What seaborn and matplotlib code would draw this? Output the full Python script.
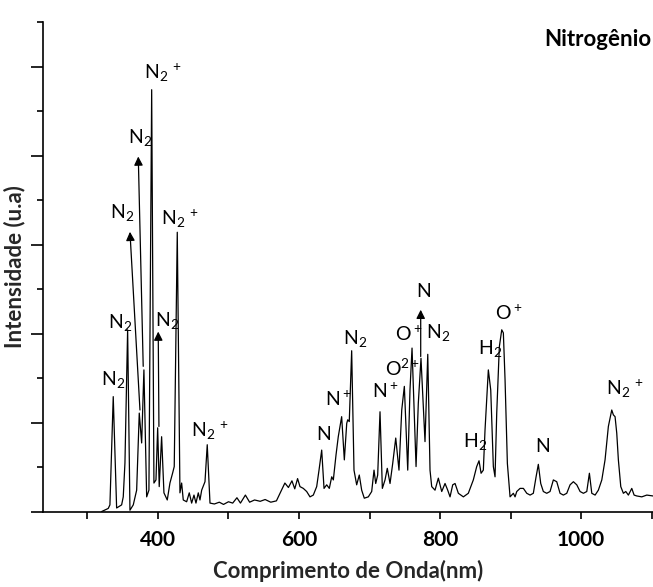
import matplotlib
matplotlib.use("Agg")
import matplotlib.pyplot as plt
import seaborn as sns
import pandas as pd
from matplotlib.ticker import MultipleLocator, FixedLocator, NullFormatter

# Emission spectrum of the nitrogen plasma (wavelength in nm, intensity in a.u.)
wavelength = [
    320.1, 329.5, 331.9, 336.6, 341.4, 348.5, 350.8, 353.2, 357.0, 360.3,
    365.0, 369.8, 373.5, 376.9, 380.1, 384.0, 387.2, 391.1, 394.3, 397.2,
    399.6, 401.8, 405.2, 408.5, 413.2, 417.0, 420.9, 423.1, 427.4, 431.2,
    433.6, 435.9, 440.7, 444.4, 447.8, 451.1, 453.9, 457.2, 459.6, 462.0,
    466.7, 469.9, 473.8, 480.0, 487.0, 493.0, 500.0, 506.0, 512.0, 517.0,
    524.0, 530.0, 537.0, 545.0, 552.0, 560.0, 568.0, 574.0, 580.0, 585.0,
    590.0, 594.0, 598.0, 601.4, 606.1, 610.9, 615.6, 620.3, 625.1, 628.4,
    632.2, 635.5, 639.3, 643.0, 646.4, 648.7, 652.5, 655.7, 660.5, 664.3,
    667.7, 669.1, 671.3, 674.7, 678.0, 681.8, 685.5, 688.9, 692.6, 698.3,
    703.1, 706.4, 708.8, 711.6, 714.9, 718.2, 722.0, 725.2, 729.1, 732.9,
    737.2, 741.8, 745.7, 749.4, 754.2, 757.4, 760.3, 766.0, 769.2, 773.0,
    778.7, 782.6, 785.8, 788.2, 792.9, 797.6, 802.4, 807.1, 810.9, 814.2,
    818.0, 821.3, 826.0, 833.1, 840.1, 847.2, 852.0, 855.3, 858.2, 861.4,
    863.8, 868.5, 871.9, 875.6, 878.0, 880.4, 884.1, 887.5, 889.8, 892.2,
    895.5, 899.3, 904.0, 906.4, 908.8, 913.5, 918.2, 923.0, 927.7, 932.3,
    936.2, 939.4, 942.8, 946.5, 951.3, 956.0, 960.7, 965.5, 970.2, 974.9,
    979.7, 984.4, 989.1, 993.9, 998.6, 1003.3, 1008.1, 1011.8, 1015.2, 1019.9,
    1024.5, 1029.4, 1034.0, 1038.7, 1043.5, 1045.8, 1048.2, 1050.6, 1052.9, 1056.3,
    1060.0, 1063.4, 1067.1, 1071.9, 1075.2, 1079.0, 1086.1, 1093.2, 1102.0,
]
intensity = [
    0.01, 0.08, 0.16, 2.59, 0.09, 0.16, 0.34, 1.10, 4.09, 0.04,
    0.16, 0.49, 2.22, 1.55, 3.19, 0.34, 0.49, 9.48, 0.65, 0.72,
    1.89, 0.57, 1.69, 0.43, 0.27, 0.65, 0.88, 1.02, 6.28, 0.43,
    0.65, 0.27, 0.23, 0.43, 0.20, 0.38, 0.20, 0.43, 0.27, 0.49,
    0.68, 1.51, 0.20, 0.18, 0.22, 0.17, 0.23, 0.20, 0.32, 0.20,
    0.38, 0.22, 0.27, 0.24, 0.28, 0.22, 0.25, 0.45, 0.65, 0.55,
    0.70, 0.52, 0.75, 0.57, 0.53, 0.46, 0.34, 0.38, 0.57, 0.94,
    1.39, 0.53, 0.61, 0.53, 0.79, 0.72, 1.28, 1.69, 2.14, 1.17,
    1.99, 2.07, 2.03, 3.62, 0.94, 0.61, 0.83, 0.49, 0.31, 0.34,
    0.46, 0.94, 0.64, 0.83, 2.25, 0.53, 0.72, 0.98, 0.64, 1.09,
    1.66, 0.94, 2.29, 2.82, 0.94, 2.74, 3.68, 1.02, 2.44, 3.45,
    1.58, 3.54, 0.94, 0.57, 0.49, 0.76, 0.46, 0.64, 0.49, 0.34,
    0.61, 0.64, 0.42, 0.34, 0.42, 0.72, 1.02, 1.15, 0.87, 0.94,
    1.84, 3.19, 2.74, 1.02, 0.79, 2.22, 3.71, 4.09, 4.02, 2.97,
    1.09, 0.34, 0.42, 0.34, 0.46, 0.53, 0.53, 0.42, 0.38, 0.42,
    0.79, 1.07, 0.64, 0.46, 0.42, 0.46, 0.72, 0.68, 0.42, 0.38,
    0.42, 0.61, 0.68, 0.61, 0.46, 0.42, 0.46, 0.87, 0.42, 0.38,
    0.49, 0.72, 1.17, 1.92, 2.29, 2.18, 2.14, 1.77, 1.17, 0.57,
    0.42, 0.46, 0.38, 0.53, 0.38, 0.36, 0.34, 0.38, 0.36,
]

# Species labels: text, (x, y) of the label centre
N2P = r"N$_2\;{}^{+}$"
species = [
    (r"N$_2$", 336.6, 2.97),
    (r"N$_2$", 346.1, 4.25),
    (r"N$_2$", 349.4, 6.72),
    (r"N$_2$", 374.5, 8.40),
    (N2P, 407.0, 9.85),
    (N2P, 430.5, 6.58),
    (r"N$_2$", 413.2, 4.31),
    (N2P, 473.0, 1.82),
    (r"N", 635.5, 1.73),
    (r"N$^+$", 656.0, 2.52),
    (r"N$_2$", 679.4, 3.90),
    (r"N$^+$", 723.0, 2.70),
    (r"O$^{2+}$", 747.0, 3.22),
    (r"O$^+$", 755.0, 4.00),
    (r"N", 776.3, 4.95),
    (r"N$_2$", 797.6, 4.02),
    (r"H$_2$", 849.6, 1.58),
    (r"H$_2$", 870.9, 3.68),
    (r"O$^+$", 898.0, 4.45),
    (r"N", 945.1, 1.47),
    (N2P, 1062.0, 2.76),
]

# Arrows pointing from a line up to its label: (tail x, tail y, head x, head y)
arrows = [
    (374.5, 2.29, 360.3, 6.29),
    (379.1, 3.27, 372.1, 7.98),
    (401.4, 1.92, 400.4, 4.05),
    (772.6, 3.49, 772.6, 4.54),
]

sns.set_theme(style="ticks")
plt.rcParams["font.family"] = ["Lato", "DejaVu Sans"]
plt.rcParams["mathtext.fontset"] = "custom"
plt.rcParams["mathtext.rm"] = "Lato"
plt.rcParams["mathtext.it"] = "Lato"
plt.rcParams["mathtext.bf"] = "Lato:bold"

fig = plt.figure(figsize=(6.53, 5.87), dpi=100)
ax = fig.add_axes([43 / 653, 75 / 587, 610 / 653, 490 / 587])

df = pd.DataFrame({"wavelength": wavelength, "intensity": intensity})
sns.lineplot(data=df, x="wavelength", y="intensity", ax=ax, color="black",
             linewidth=0.9, estimator=None, sort=True)

ax.set_xlim(237, 1102)
ax.set_ylim(0, 11)

for text, x, y in species:
    ax.text(x, y, text, ha="center", va="center", fontsize=14, color="black")

for tx, ty, hx, hy in arrows:
    ax.annotate("", xy=(hx, hy), xytext=(tx, ty),
                arrowprops=dict(arrowstyle="-|>", color="black", lw=0.9,
                                mutation_scale=13, shrinkA=0, shrinkB=0))

ax.text(0.997, 0.985, "Nitrogênio", transform=ax.transAxes, ha="right",
        va="top", fontsize=16, fontweight="bold", color="black")

ax.set_xlabel("Comprimento de Onda(nm)", fontsize=16, fontweight="bold",
              labelpad=7)
ax.set_ylabel("Intensidade (u.a)", fontsize=16, fontweight="bold", labelpad=0)

ax.xaxis.set_major_locator(FixedLocator([400, 600, 800, 1000]))
ax.xaxis.set_minor_locator(FixedLocator([300, 500, 700, 900, 1100]))
ax.yaxis.set_major_locator(MultipleLocator(2))
ax.yaxis.set_minor_locator(MultipleLocator(1))
ax.yaxis.set_major_formatter(NullFormatter())

ax.tick_params(axis="x", which="both", direction="out", length=5, width=1.2,
               labelsize=15, pad=8, color="black", labelcolor="black")
for lbl in ax.get_xticklabels():
    lbl.set_fontweight("bold")
ax.tick_params(axis="y", which="major", direction="out", length=9, width=1.2,
               color="black")
ax.tick_params(axis="y", which="minor", direction="out", length=4.5,
               width=1.2, color="black")

sns.despine(ax=ax)
for side in ("left", "bottom"):
    ax.spines[side].set_linewidth(1.2)
    ax.spines[side].set_color("black")

fig.savefig("out.png", dpi=100)
